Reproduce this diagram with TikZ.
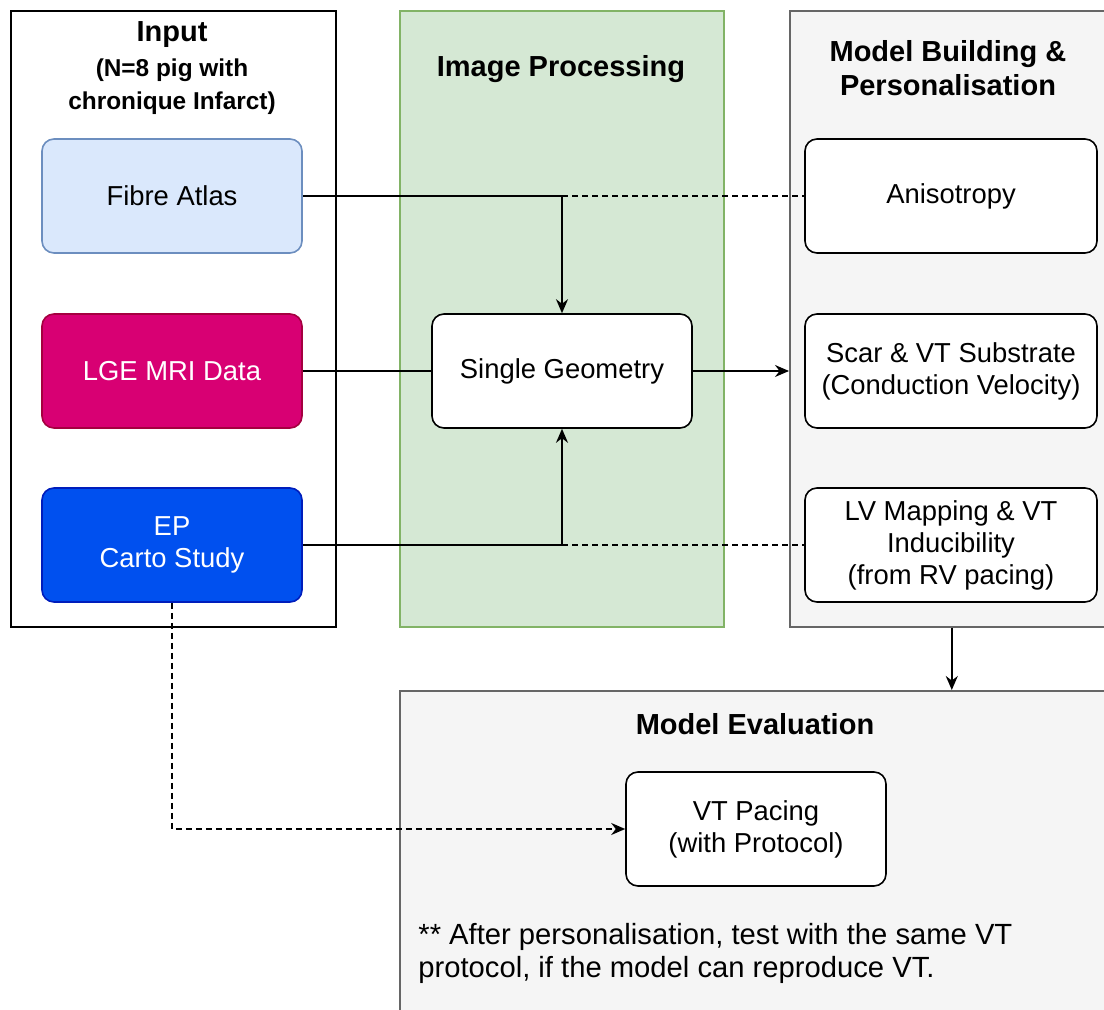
\documentclass[tikz,border=0pt]{standalone}
\usepackage{fontspec}
\setmainfont{Liberation Sans}
\usetikzlibrary{arrows.meta}

\definecolor{procfill}{HTML}{D5E8D4}
\definecolor{procline}{HTML}{82B366}
\definecolor{greyfill}{HTML}{F5F5F5}
\definecolor{greyline}{HTML}{666666}
\definecolor{atlasfill}{HTML}{DAE8FC}
\definecolor{atlasline}{HTML}{6C8EBF}
\definecolor{lgefill}{HTML}{D80073}
\definecolor{lgeline}{HTML}{A50040}
\definecolor{epfill}{HTML}{0050EF}
\definecolor{epline}{HTML}{001DBC}

\tikzset{
  lane/.style={draw, line width=0.8pt, anchor=north west, inner sep=0pt, minimum height=308pt},
  card/.style={draw, fill=white, rounded corners=6pt, line width=0.8pt,
    minimum width=130pt, minimum height=57pt, align=center,
    font=\fontsize{13.7}{16}\selectfont},
  head/.style={font=\fontsize{14.5}{17}\selectfont\bfseries, align=center},
  subhead/.style={font=\fontsize{12.2}{16.5}\selectfont\bfseries, align=center},
  wire/.style={line width=0.8pt},
  dashwire/.style={line width=0.8pt, dash pattern=on 3pt off 2pt},
}

\begin{document}
\begin{tikzpicture}[x=0.5pt,y=-0.5pt,>={Stealth[length=7pt,width=6pt]}]
\clip (0,0) rectangle (1104,1010);

% swim lanes
\node[lane,fill=white] (input) at (10,10) [minimum width=162.5pt] {};
\node[lane,fill=procfill,draw=procline] (proc) at (399,10) [minimum width=162pt] {};
\node[lane,fill=greyfill,draw=greyline] (build) at (789,10) [minimum width=162pt] {};
\node[lane,fill=greyfill,draw=greyline,minimum height=170pt] (eval) at (399,690) [minimum width=360pt] {};

\node[head] (inputtitle) at (172,35) {Input};
\node[subhead] (inputsub) at (172,87) {(N=8 pig with\\chronique Infarct)};
\node[head] (proctitle) at (561,69) {Image Processing};
\node[head] (buildtitle) at (948,68) {Model Building \&\\Personalisation};
\node[head] (evaltitle) at (755,724) {Model Evaluation};

% boxes
\node[card,fill=atlasfill,draw=atlasline] (atlas) at (172,196) {Fibre Atlas};
\node[card,fill=lgefill,draw=lgeline,text=white] (lge) at (172,371) {LGE MRI Data};
\node[card,fill=epfill,draw=epline,text=white] (ep) at (172,545) {EP\\Carto Study};
\node[card] (geom) at (562,371) {Single Geometry};
\node[card,minimum width=146pt] (aniso) at (951,196) {Anisotropy};
\node[card,minimum width=146pt] (scar) at (951,371) {Scar \& VT Substrate\\(Conduction Velocity)};
\node[card,minimum width=146pt] (lvmap) at (951,545) {LV Mapping \& VT\\Inducibility\\(from RV pacing)};
\node[card] (pacing) at (756,829) {VT Pacing\\(with Protocol)};
\node[anchor=west,align=left,inner sep=0pt,font=\fontsize{14.6}{16.5}\selectfont] (remark) at (418,953)
  {** After personalisation, test with the same VT\\protocol, if the model can reproduce VT.};

% connectors
\coordinate (atlasjoin) at (geom.north |- atlas.east);
\coordinate (epjoin) at (geom.south |- ep.east);
\draw[wire,->] (atlas.east) -| (geom.north);
\draw[dashwire] (atlasjoin) -- (aniso.west);
\draw[wire] (lge.east) -- (geom.west);
\draw[wire,->] (geom.east) -- (geom.east -| build.west);
\draw[wire,->] (ep.east) -| (geom.south);
\draw[dashwire] (epjoin) -- (lvmap.west);
\draw[wire,->] (build.south) -- (build.south |- eval.north);
\draw[dashwire,->] (ep.south) |- (pacing.west);
\end{tikzpicture}
\end{document}
